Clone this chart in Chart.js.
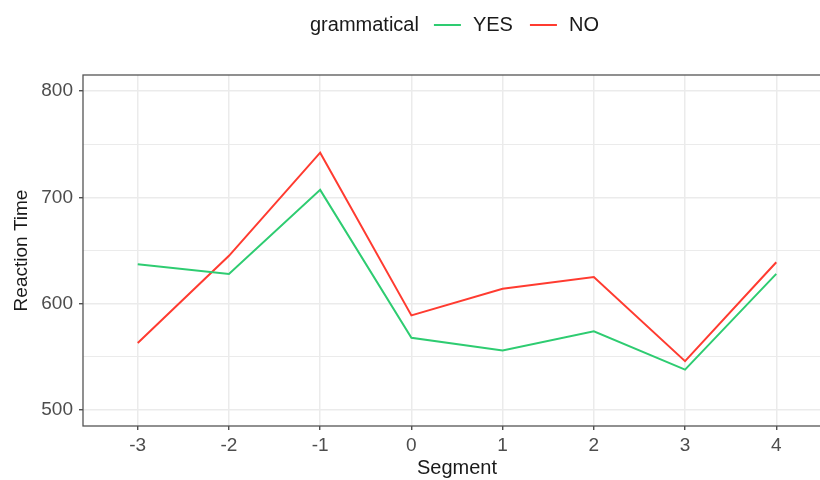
<!DOCTYPE html>
<html>
<head>
<meta charset="utf-8">
<script src="https://cdn.jsdelivr.net/npm/chart.js@4.4.0/dist/chart.umd.min.js"></script>
<style>
  html, body { margin: 0; padding: 0; background: #fff; overflow: hidden; }
  #wrap { width: 840px; height: 480px; }
</style>
</head>
<body>
<div id="wrap"><canvas id="chart"></canvas></div>
<script>
// data
const segments = [-3, -2, -1, 0, 1, 2, 3, 4];
const yesTimes = [637, 628, 707, 568, 556, 574, 538, 628];
const noTimes = [563, 645, 742, 589, 614, 625, 546, 639];
const yTicks = [500, 550, 600, 650, 700, 750, 800];
const legendTitle = "grammatical";
const seriesNames = ["YES", "NO"];
const seriesColors = ["#2ecc71", "#ff3b30"];

const font = "Liberation Sans, Arial, sans-serif";

// legend + panel border drawn by hand, ggplot style
const ggExtras = {
  id: "ggExtras",
  afterDraw(chart) {
    const ctx = chart.ctx;
    const a = chart.chartArea;
    ctx.save();
    ctx.strokeStyle = "#555";
    ctx.lineWidth = 1.3;
    ctx.strokeRect(a.left, a.top, a.right - a.left, a.bottom - a.top);

    // legend on top
    ctx.font = "20px " + font;
    ctx.textBaseline = "middle";
    ctx.fillStyle = "#1a1a1a";
    let x = 310;
    const y = 25;
    ctx.fillText(legendTitle, x, y);
    x += ctx.measureText(legendTitle).width + 15;
    seriesNames.forEach((name, i) => {
      ctx.strokeStyle = seriesColors[i];
      ctx.lineWidth = 2;
      ctx.beginPath();
      ctx.moveTo(x, y);
      ctx.lineTo(x + 27, y);
      ctx.stroke();
      x += 39;
      ctx.fillStyle = "#1a1a1a";
      ctx.fillText(name, x, y);
      x += ctx.measureText(name).width + 17;
    });
    ctx.restore();
  }
};

const datasets = [yesTimes, noTimes].map((vals, i) => ({
  label: seriesNames[i],
  data: segments.map((s, j) => ({ x: s, y: vals[j] })),
  borderColor: seriesColors[i],
  backgroundColor: seriesColors[i],
  borderWidth: 2,
  pointRadius: 0,
  tension: 0,
  fill: false
}));

new Chart(document.getElementById("chart"), {
  type: "line",
  data: { datasets: datasets },
  options: {
    responsive: true,
    maintainAspectRatio: false,
    animation: false,
    layout: { padding: { top: 75, right: 9, left: 0, bottom: 0 } },
    plugins: {
      legend: { display: false },
      tooltip: { enabled: false }
    },
    scales: {
      x: {
        type: "linear",
        min: -3.6,
        max: 4.6,
        afterBuildTicks: (scale) => {
          scale.ticks = segments.map((v) => ({ value: v }));
        },
        afterFit: (scale) => { scale.height = 54; },
        border: { display: false },
        grid: {
          color: "#ebebeb",
          lineWidth: 1.5,
          tickLength: 4,
          tickColor: "#333",
          tickWidth: 1.2
        },
        ticks: {
          color: "#4d4d4d",
          font: { family: font, size: 19 },
          padding: 4,
          maxRotation: 0
        },
        title: {
          display: true,
          text: "Segment",
          color: "#1a1a1a",
          font: { family: font, size: 20 },
          padding: { top: 0, bottom: 0 }
        }
      },
      y: {
        min: 485,
        max: 815,
        afterBuildTicks: (scale) => {
          scale.ticks = yTicks.map((v) => ({ value: v }));
        },
        afterFit: (scale) => { scale.width = 83; },
        border: { display: false },
        grid: {
          color: "#ebebeb",
          lineWidth: (c) => (c.tick && c.tick.value % 100 === 0 ? 1.5 : 1),
          tickLength: 4,
          tickColor: (c) => (c.tick && c.tick.value % 100 === 0 ? "#333" : "rgba(0,0,0,0)"),
          tickWidth: 1.2
        },
        ticks: {
          color: "#4d4d4d",
          font: { family: font, size: 19 },
          padding: 6,
          callback: (v) => (v % 100 === 0 ? String(v) : "")
        },
        title: {
          display: true,
          text: "Reaction Time",
          color: "#1a1a1a",
          font: { family: font, size: 19 },
          padding: { top: 10, bottom: 0 }
        }
      }
    }
  },
  plugins: [ggExtras]
});
</script>
</body>
</html>
